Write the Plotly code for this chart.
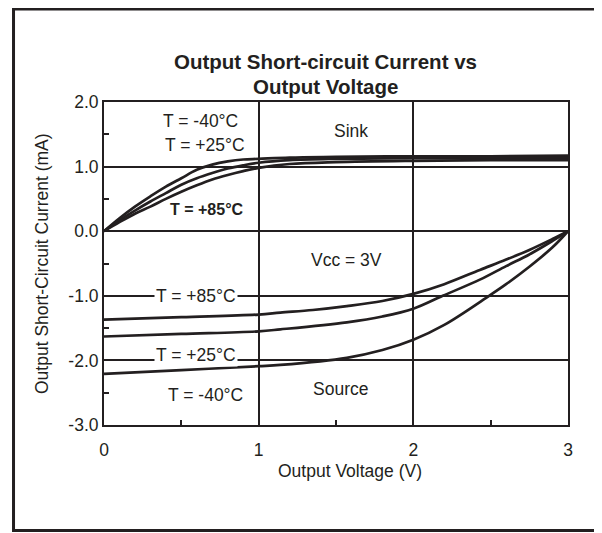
import plotly.graph_objects as go

# ---- data ----
sink_x = [0, 0.1, 0.2, 0.3, 0.4, 0.5, 0.6, 0.7, 0.8, 0.9, 1.0, 1.2, 1.5, 2.0, 2.5, 3.0]
sink_m40 = [0, 0.20, 0.38, 0.54, 0.69, 0.82, 0.95, 1.03, 1.08, 1.11, 1.12, 1.14, 1.15, 1.16, 1.16, 1.17]
sink_p25 = [0, 0.17, 0.32, 0.46, 0.59, 0.72, 0.82, 0.90, 0.97, 1.02, 1.06, 1.10, 1.12, 1.13, 1.13, 1.14]
sink_p85 = [0, 0.14, 0.27, 0.38, 0.50, 0.61, 0.71, 0.80, 0.87, 0.93, 0.98, 1.04, 1.07, 1.09, 1.10, 1.10]

src85_x = [0, 0.5, 1.0, 1.14, 1.35, 1.57, 1.8, 2.0, 2.2, 2.43, 2.6, 2.75, 2.9, 3.0]
src_p85 = [-1.37, -1.33, -1.29, -1.26, -1.22, -1.16, -1.08, -0.97, -0.82, -0.60, -0.44, -0.29, -0.12, 0]
src25_x = [0, 0.5, 1.0, 1.14, 1.57, 1.8, 2.0, 2.19, 2.43, 2.6, 2.75, 2.9, 3.0]
src_p25 = [-1.63, -1.59, -1.55, -1.52, -1.41, -1.32, -1.20, -1.00, -0.75, -0.54, -0.36, -0.15, 0]
src40_x = [0, 0.5, 1.0, 1.14, 1.57, 1.8, 2.0, 2.2, 2.49, 2.6, 2.75, 2.9, 3.0]
src_m40 = [-2.21, -2.15, -2.09, -2.07, -1.96, -1.84, -1.68, -1.45, -1.00, -0.82, -0.55, -0.25, 0]

x_ticks = [0, 1, 2, 3]
x_ticktext = ["0", "1", "2", "3"]
y_ticks = [2, 1, 0, -1, -2, -3]
y_ticktext = ["2.0", "1.0", "0.0", "-1.0", "-2.0", "-3.0"]

FONT = "Liberation Sans, Arial, sans-serif"
INK = "#231f20"
FS = 17.5

fig = go.Figure()
for xs, ys in [(sink_x, sink_m40), (sink_x, sink_p25), (sink_x, sink_p85),
               (src85_x, src_p85), (src25_x, src_p25), (src40_x, src_m40)]:
    fig.add_trace(go.Scatter(x=xs, y=ys, mode="lines", line=dict(color=INK, width=2.7, shape="spline"),
                             showlegend=False, hoverinfo="skip"))

axis_common = dict(showline=True, linecolor=INK, linewidth=2, mirror=True,
                   showgrid=True, gridcolor=INK, gridwidth=1.5, zeroline=False,
                   ticks="inside", ticklen=5, tickcolor=INK, tickwidth=1.5,
                   tickfont=dict(family=FONT, size=FS, color=INK))
fig.update_xaxes(range=[0, 3], tickvals=x_ticks, ticktext=x_ticktext,
                 minor=dict(dtick=0.5, ticks="inside", ticklen=5, tickcolor=INK, tickwidth=1.5, showgrid=False),
                 ticklabelstandoff=8, **axis_common)
fig.update_yaxes(range=[-3, 2], tickvals=y_ticks, ticktext=y_ticktext,
                 minor=dict(dtick=0.5, ticks="inside", ticklen=5, tickcolor=INK, tickwidth=1.5, showgrid=False),
                 **axis_common)

def note(text, x, y, size=FS, bold=False, bg=None):
    fig.add_annotation(x=x, y=y, xref="x", yref="y", text=("<b>%s</b>" % text) if bold else text,
                       showarrow=False, font=dict(family=FONT, size=size, color=INK),
                       bgcolor=bg, borderpad=1, xanchor="center", yanchor="middle")

note("T = -40°C", 0.627, 1.71)
note("T = +25°C", 0.653, 1.34)
note("T = +85°C", 0.666, 0.333, size=16, bold=True)
note("Sink", 1.597, 1.556)
note("Vcc = 3V", 1.565, -0.44)
note("T = +85°C", 0.595, -1.0, bg="white")
note("T = +25°C", 0.595, -1.91, bg="white")
note("T = -40°C", 0.653, -2.53)
note("Source", 1.526, -2.44)

def pnote(text, x, y, size=FS, angle=0):
    fig.add_annotation(x=x, y=y, xref="paper", yref="paper", showarrow=False, text=text,
                       textangle=angle, xanchor="center", yanchor="middle",
                       font=dict(family=FONT, size=size, color=INK))

# titles (paper coords: x=(px-104)/464, y=(425-py)/323 in page pixels)
pnote("<b>Output Short-circuit Current vs</b>", 0.478, (425 - 61) / 323, size=20.5)
pnote("<b>Output Voltage</b>", 0.478, (425 - 87) / 323, size=20.5)
pnote("Output Voltage (V)", (349.5 - 104) / 464, (425 - 471.5) / 323)
pnote("Output Short-Circuit Current (mA)", (42 - 104) / 464, (425 - 264) / 323, angle=-90)

# outer frame
fig.add_shape(type="rect", xref="paper", yref="paper", x0=-0.195, x1=1.0657, y0=-0.3266, y1=1.288,
              line=dict(color=INK, width=3), layer="below")

fig.update_layout(width=602, height=533, margin=dict(l=96, r=42, t=94, b=116),
                  paper_bgcolor="white", plot_bgcolor="white")
fig.write_html("out.html")
